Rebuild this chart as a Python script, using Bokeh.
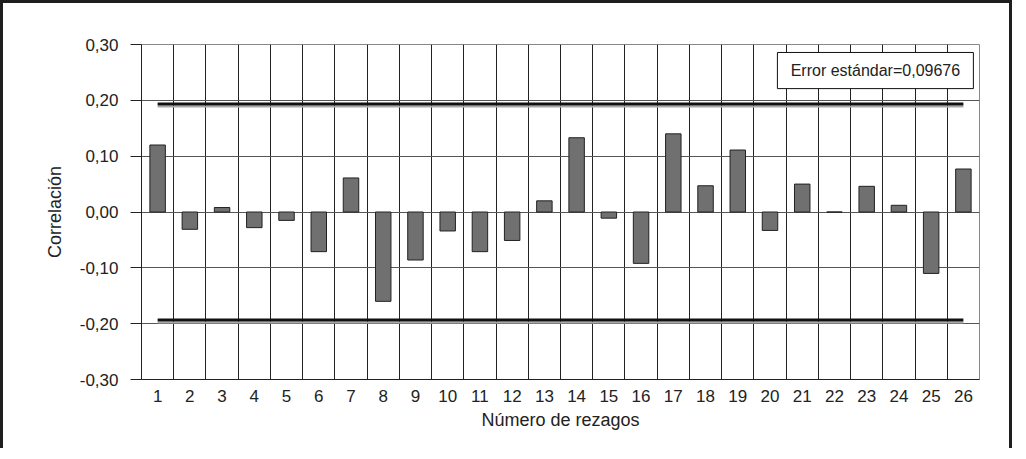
from bokeh.plotting import figure
from bokeh.models import Range1d, FixedTicker, CustomJSTickFormatter, BoxAnnotation, Label
from bokeh.embed import file_html
from bokeh.resources import INLINE

# ---- data ----
lags = list(range(1, 27))
acf = [0.120, -0.031, 0.008, -0.028, -0.015, -0.071, 0.061, -0.160, -0.086, -0.034,
       -0.071, -0.051, 0.020, 0.133, -0.011, -0.092, 0.140, 0.047, 0.111, -0.033,
       0.050, 0.000, 0.046, 0.012, -0.110, 0.077]
std_error = 0.09676
limit = 0.1935
y_ticks = [-0.3, -0.2, -0.1, 0.0, 0.1, 0.2, 0.3]
y_tick_labels = ["-0,30", "-0,20", "-0,10", "0,00", "0,10", "0,20", "0,30"]
x_title = "Número de rezagos"
y_title = "Correlación"
box_text = "Error estándar=0,09676"

FONT = "Liberation Sans"

p = figure(width=1012, height=448,
           x_range=Range1d(0.5, 26.5), y_range=Range1d(-0.3, 0.3),
           output_backend="svg", toolbar_location=None,
           min_border_left=138, min_border_right=36,
           min_border_top=41, min_border_bottom=72)
p.styles = {"border-left": "3px solid #1e1e1e",
            "border-top": "3px solid #1e1e1e",
            "border-right": "3px solid #1e1e1e"}
p.background_fill_color = "white"
p.border_fill_color = "white"
p.outline_line_color = "#888888"
p.outline_line_width = 1

# grids
p.ygrid.ticker = FixedTicker(ticks=y_ticks)
p.ygrid.grid_line_color = "#555555"
p.xgrid.ticker = FixedTicker(ticks=[lags[i] + 0.5 for i in range(len(lags) - 1)])
p.xgrid.grid_line_color = "#222222"

# y axis
p.yaxis.ticker = FixedTicker(ticks=y_ticks)
p.yaxis.formatter = CustomJSTickFormatter(args=dict(tvals=y_ticks, tlabels=y_tick_labels), code="""
let best = 0;
for (let i = 0; i < tvals.length; i++) {
  if (Math.abs(tvals[i] - tick) < Math.abs(tvals[best] - tick)) best = i;
}
return tlabels[best];
""")
p.yaxis.major_tick_out = 11
p.yaxis.major_tick_in = 0
p.yaxis.minor_tick_line_color = None
p.yaxis.axis_line_color = "#222222"
p.yaxis.major_tick_line_color = "#222222"
p.yaxis.major_label_standoff = 12
p.yaxis.axis_label = y_title
p.yaxis.axis_label_standoff = 12

# x axis
p.xaxis.ticker = FixedTicker(ticks=lags)
p.xaxis.major_tick_line_color = None
p.xaxis.minor_tick_line_color = None
p.xaxis.major_tick_out = 0
p.xaxis.major_tick_in = 0
p.xaxis.axis_line_color = "#222222"
p.xaxis.major_label_standoff = 10
p.xaxis.axis_label = x_title
p.xaxis.axis_label_standoff = 5

for ax in (p.xaxis[0], p.yaxis[0]):
    ax.major_label_text_font = FONT
    ax.major_label_text_font_size = "17px"
    ax.major_label_text_color = "#222222"
    ax.axis_label_text_font = FONT
    ax.axis_label_text_font_size = "18px"
    ax.axis_label_text_font_style = "normal"
    ax.axis_label_text_color = "#222222"

# bars
p.vbar(x=lags, top=acf, bottom=0, width=0.48,
       fill_color="#707070", line_color="#222222", line_width=1)

# limit lines (±2 standard errors)
for sgn in (1, -1):
    p.line(x=lags, y=[sgn * limit - 0.0045] * len(lags), line_color="#a8a8a8", line_width=2)
    p.line(x=lags, y=[sgn * limit] * len(lags), line_color="#111111", line_width=3)

# standard error box
p.add_layout(BoxAnnotation(left=20.23, right=26.31, bottom=0.221, top=0.2857,
                           fill_color="white", fill_alpha=1.0,
                           line_color="#111111", line_width=1, line_alpha=1.0))
p.add_layout(Label(x=23.27, y=0.2534, text=box_text, text_align="center",
                   text_baseline="middle", text_font=FONT, text_font_size="16px",
                   text_color="#222222"))

open("out.html", "w").write(file_html(p, INLINE))
